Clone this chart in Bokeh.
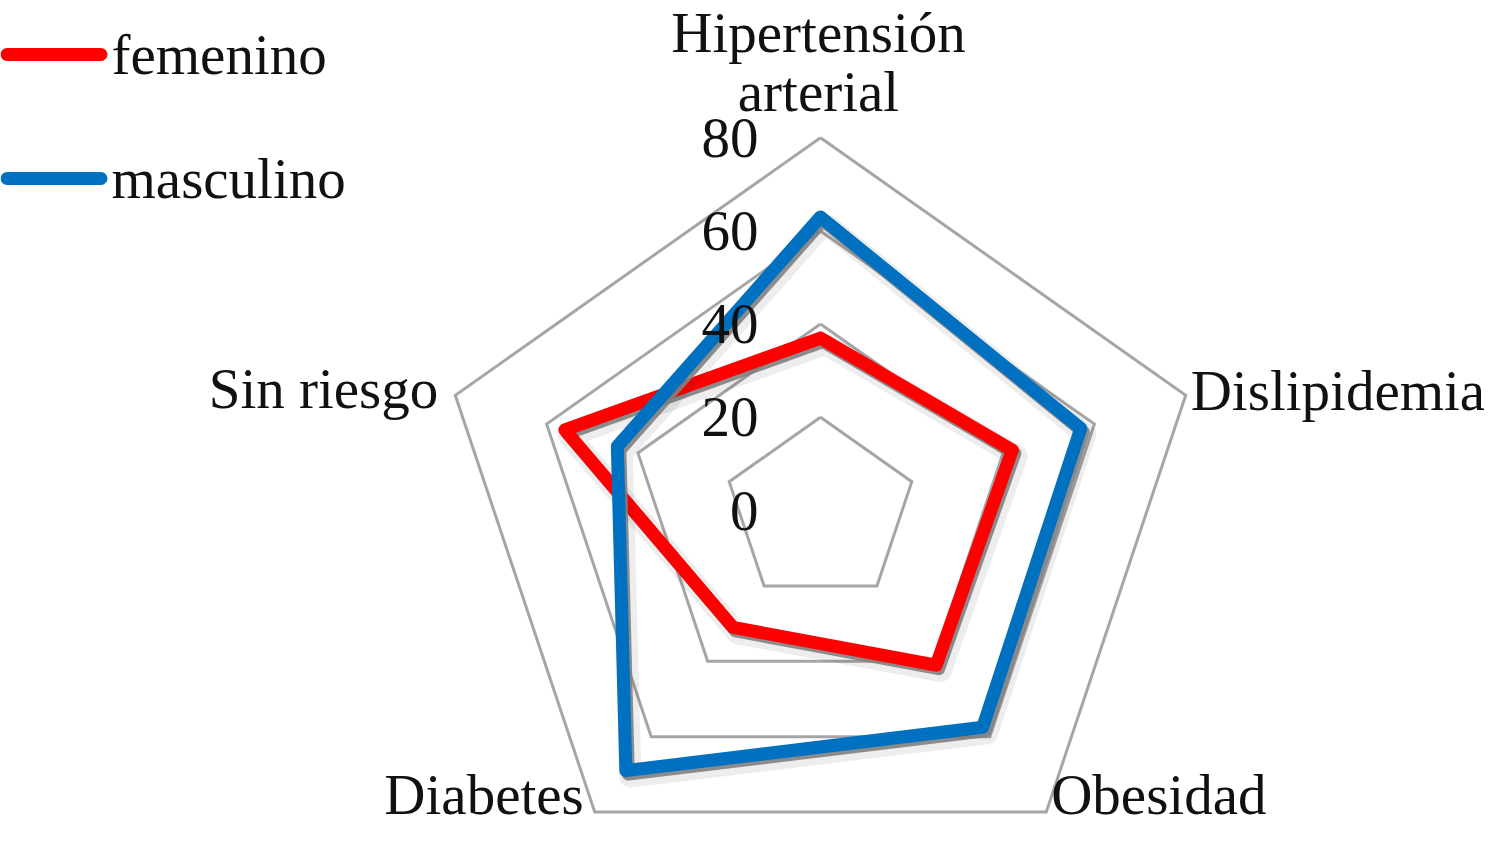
import numpy as np
from bokeh.plotting import figure
from bokeh.models import Range1d
from bokeh.core.properties import value
from bokeh.embed import file_html
from bokeh.resources import INLINE

# ---------------- data ----------------
categories = ["Hipertensión arterial", "Dislipidemia", "Obesidad", "Diabetes", "Sin riesgo"]
femenino = [37, 42, 41, 31, 56]
masculino = [63, 57, 57.5, 69, 44.5]
ring_ticks = [0, 20, 40, 60, 80]
series_names = ["femenino", "masculino"]
series_colors = ["#ff0000", "#0070c0"]

# ---------------- layout ----------------
W, H = 1484, 826
SX, SY = 4.8, 4.66          # pixels per unit (x, y)
CX, CY = 820, 510           # centre of radar in plot pixels
FONT = "Liberation Serif"
FS = "57px"
MID = -19                   # baseline -> middle shift (px)

x0 = -CX / SX
x1 = (W - CX) / SX
y1 = CY / SY
y0 = -(H - CY) / SY

p = figure(width=W, height=H, output_backend="svg", toolbar_location=None,
           x_range=Range1d(x0, x1), y_range=Range1d(y0, y1),
           min_border=0, min_border_left=0, min_border_right=0,
           min_border_top=0, min_border_bottom=0)
p.axis.visible = False
p.grid.visible = False
p.outline_line_color = None
p.background_fill_color = "white"
p.border_fill_color = "white"

n = len(categories)
angles = np.pi / 2 - 2 * np.pi * np.arange(n) / n


def polar(vals):
    v = np.asarray(vals, dtype=float)
    xs = v * np.cos(angles)
    ys = v * np.sin(angles)
    return np.append(xs, xs[0]), np.append(ys, ys[0])


# grid rings
for r in ring_ticks[1:]:
    gx, gy = polar([r] * n)
    p.line(gx, gy, line_color="#a6a6a6", line_width=3, line_join="miter")

# series with soft shadow
for vals, col in zip([femenino, masculino], series_colors):
    sx_, sy_ = polar(vals)
    p.line(sx_ + 4.5 / SX, sy_ - 6 / SY, line_color="black", line_alpha=0.07,
           line_width=22, line_join="round")
    p.line(sx_ + 2.5 / SX, sy_ - 3.5 / SY, line_color="#808080", line_alpha=0.9,
           line_width=13, line_join="round")
    p.line(sx_, sy_, line_color=col, line_width=13, line_join="round", line_cap="round")

# radial tick labels
p.text(x=[0] * len(ring_ticks), y=ring_ticks, text=[str(t) for t in ring_ticks],
       x_offset=-62, text_align="right", text_baseline="middle",
       text_font=value(FONT), text_font_size=FS, text_color="#111111")

# category labels (anchored on outer ring vertices); offsets are baselines in px
vx, vy = polar([ring_ticks[-1]] * n)
label_style = [
    # (align, x_off px, baseline y_off px (down positive))
    ("center", -2, -27),
    ("left", 5, 14),
    ("left", 5, 1),
    ("right", -11, 1),
    ("right", -17, 12),
]
LINE_GAP = 59
for i, cat in enumerate(categories):
    align, xo, yo = label_style[i]
    lines = ["Hipertensión", "arterial"] if i == 0 else [cat]
    for j, ln in enumerate(lines):
        yy = yo - (len(lines) - 1 - j) * LINE_GAP + MID
        p.text(x=[vx[i]], y=[vy[i]], text=[ln], x_offset=xo, y_offset=yy,
               text_align=align, text_baseline="middle",
               text_font=value(FONT), text_font_size=FS, text_color="#111111")

# legend (manual), positions in picture pixels


def dx(px):
    return (px - CX) / SX


def dy(py):
    return (CY - py) / SY


leg_y = [54, 178]
for name, col, ly in zip(series_names, series_colors, leg_y):
    p.line([dx(6.5), dx(100.5)], [dy(ly), dy(ly)], line_color=col, line_width=13,
           line_cap="round")
    p.text(x=[dx(111)], y=[dy(ly)], text=[name], text_align="left",
           text_baseline="middle", text_font=value(FONT), text_font_size=FS,
           text_color="#111111")

open("out.html", "w").write(file_html(p, INLINE))
